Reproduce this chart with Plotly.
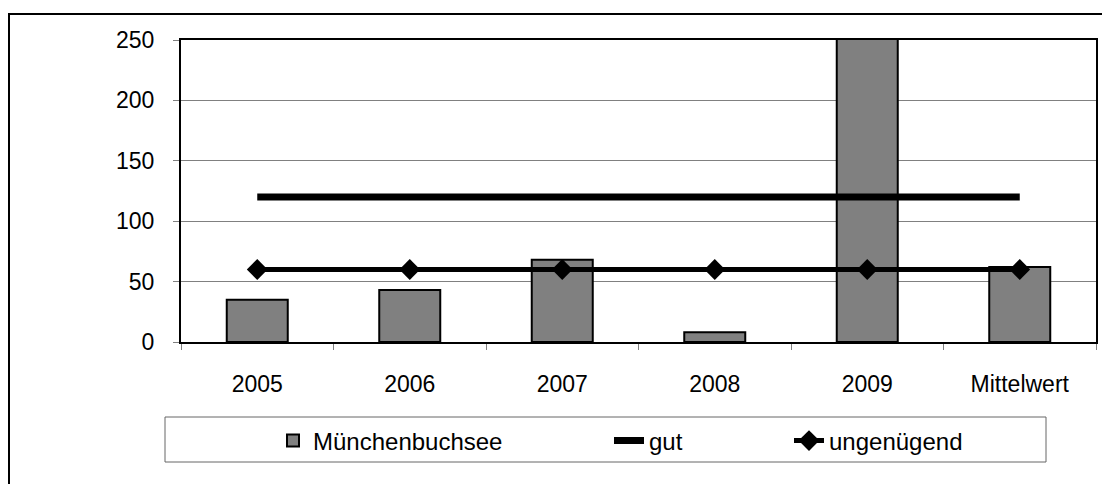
import plotly.graph_objects as go

categories = ["2005", "2006", "2007", "2008", "2009", "Mittelwert"]
muenchenbuchsee = [35, 43, 68, 8, 300, 62]
gut = [120, 120, 120, 120, 120, 120]
ungenuegend = [60, 60, 60, 60, 60, 60]
y_ticks = [0, 50, 100, 150, 200, 250]

FONT = "Arial, 'Liberation Sans', Helvetica, sans-serif"

fig = go.Figure()
fig.add_trace(go.Bar(
    x=categories, y=muenchenbuchsee, name="Münchenbuchsee",
    marker=dict(color="#808080", line=dict(color="black", width=2)),
    width=0.4, legend="legend",
))
fig.add_trace(go.Scatter(
    x=categories, y=gut, name="gut", mode="lines",
    line=dict(color="black", width=7), legend="legend2",
))
fig.add_trace(go.Scatter(
    x=categories, y=ungenuegend, name="ungenügend", mode="lines+markers",
    line=dict(color="black", width=5),
    marker=dict(symbol="diamond", size=16, color="black"),
    legend="legend3",
))

# the page adds an 8px body margin; layout below is given in page pixels
OFF = 8
W, H = 1110, 484
L, R, T, B = 181 - OFF, 1110 - (1096 - OFF), 40 - OFF, 484 - (342 - OFF)
pw, ph = W - L - R, H - T - B

def px(x):
    return (x - OFF - L) / pw

def py(y):
    return (H - B - (y - OFF)) / ph

legend_common = dict(
    orientation="h", yanchor="middle", xanchor="left",
    font=dict(family=FONT, size=24, color="black"),
    bgcolor="rgba(0,0,0,0)", borderwidth=0,
)

fig.update_layout(
    width=W, height=H,
    margin=dict(l=L, r=R, t=T, b=B, pad=0),
    paper_bgcolor="white", plot_bgcolor="white",
    font=dict(family=FONT, size=23, color="black"),
    showlegend=True,
    legend=dict(x=px(273), y=py(441), **legend_common),
    legend2=dict(x=px(609), y=py(441), **legend_common),
    legend3=dict(x=px(789), y=py(441), **legend_common),
    xaxis=dict(
        showline=True, mirror=True, linecolor="black", linewidth=2,
        ticks="outside", tickson="boundaries", ticklen=6, tickcolor="#808080",
        ticklabelstandoff=20, showgrid=False, zeroline=False,
        tickfont=dict(family=FONT, size=23, color="black"),
        fixedrange=True,
    ),
    yaxis=dict(
        range=[0, 250], tickvals=y_ticks,
        showline=True, mirror=True, linecolor="black", linewidth=2,
        ticks="outside", ticklen=6, tickcolor="#808080",
        ticklabelstandoff=14,
        showgrid=True, gridcolor="#808080", gridwidth=1, zeroline=False,
        tickfont=dict(family=FONT, size=23, color="black"),
        fixedrange=True,
    ),
    shapes=[
        dict(type="rect", xref="paper", yref="paper",
             x0=px(9), x1=px(1130), y0=py(520), y1=py(14),
             line=dict(color="black", width=2), fillcolor="rgba(0,0,0,0)",
             layer="below"),
        dict(type="rect", xref="paper", yref="paper",
             x0=px(165), x1=px(1046), y0=py(462), y1=py(417),
             line=dict(color="#666666", width=1), fillcolor="rgba(0,0,0,0)",
             layer="below"),
    ],
)

fig.write_html("out.html")
